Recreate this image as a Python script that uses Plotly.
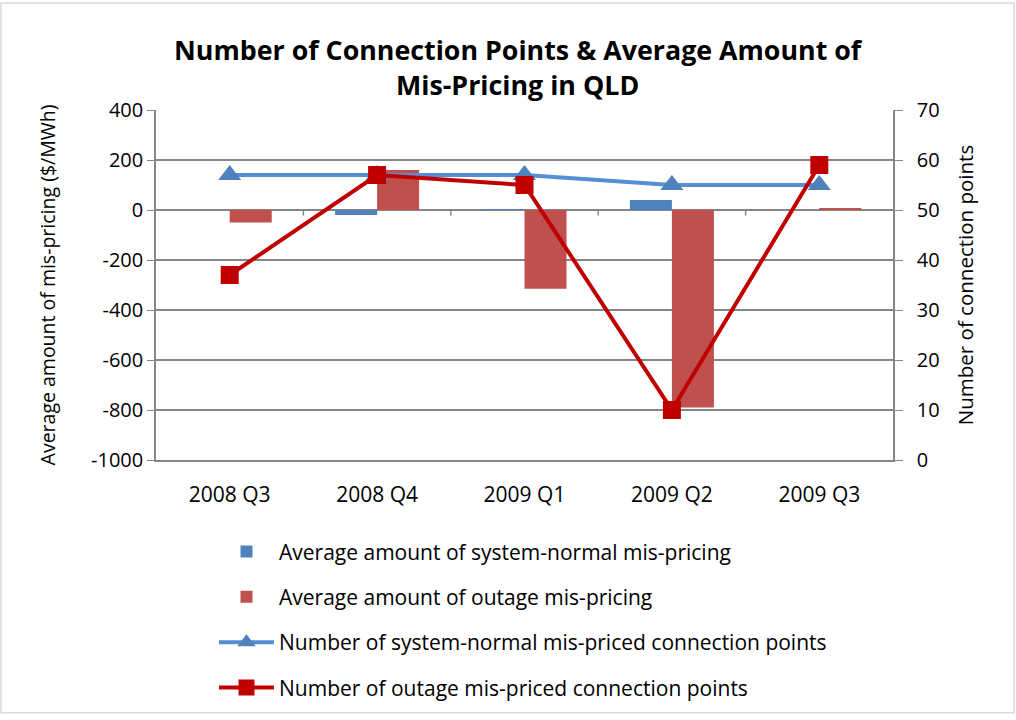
import plotly.graph_objects as go

categories = ["2008 Q3", "2008 Q4", "2009 Q1", "2009 Q2", "2009 Q3"]
avg_normal = [0, -20, 3, 40, 0]
avg_outage = [-50, 160, -315, -790, 8]
num_normal = [57, 57, 57, 55, 55]
num_outage = [37, 57, 55, 10, 59]
left_ticks = [-1000, -800, -600, -400, -200, 0, 200, 400]
left_tick_text = ["-1000", "-800", "-600", "-400", "-200", "0", "200", "400"]

FONT = "Open Sans"
GRID = "#868686"

fig = go.Figure()
fig.add_trace(go.Bar(x=categories, y=avg_normal, name="Average amount of system-normal mis-pricing",
                     marker=dict(color="#4F81BD", line=dict(width=0)), legendgroup="a", offsetgroup="1"))
fig.add_trace(go.Bar(x=categories, y=avg_outage, name="Average amount of outage mis-pricing",
                     marker=dict(color="#C0504D", line=dict(width=0)), legendgroup="b", offsetgroup="2"))
fig.add_trace(go.Scatter(x=categories, y=num_normal, yaxis="y2", mode="lines+markers",
                         name="Number of system-normal mis-priced connection points",
                         line=dict(color="#558ED5", width=4),
                         marker=dict(symbol="triangle-up", size=20, color="#4F81BD"),
                         legendgroup="c"))
fig.add_trace(go.Scatter(x=categories, y=num_outage, yaxis="y2", mode="lines+markers",
                         name="Number of outage mis-priced connection points",
                         line=dict(color="#C00000", width=4),
                         marker=dict(symbol="square", size=18, color="#C00000"),
                         legendgroup="d"))

shapes = []
for b in [0.5, 1.5, 2.5, 3.5]:
    shapes.append(dict(type="line", xref="x", yref="y", x0=b, x1=b, y0=0, y1=-22,
                       line=dict(color=GRID, width=1.5)))
shapes.append(dict(type="rect", xref="paper", yref="paper",
                   x0=-155/737, x1=(1014-156)/737, y0=-(718-463)/353, y1=(463-2)/353,
                   line=dict(color="#D9D9D9", width=1.5)))

fig.update_layout(
    width=1016, height=720,
    margin=dict(l=156, r=123, t=110, b=257),
    paper_bgcolor="white", plot_bgcolor="white",
    font=dict(family=FONT, size=20, color="black"),
    annotations=[dict(text="<b>Number of Connection Points & Average Amount of<br>Mis-Pricing in QLD</b>",
                      xref="paper", yref="paper", x=(518-156)/737, y=(463-67)/353,
                      xanchor="center", yanchor="middle", showarrow=False,
                      font=dict(family=FONT, size=26.8, color="black"))],
    barmode="group", bargap=0.43, bargroupgap=0,
    xaxis=dict(type="category", showgrid=False, showline=True, linecolor=GRID, linewidth=1.5,
               ticks="", tickfont=dict(size=21), range=[-0.5, 4.5], ticklabelstandoff=15),
    yaxis=dict(range=[-1000, 400], tickvals=left_ticks, ticktext=left_tick_text,
               showgrid=True, gridcolor=GRID, gridwidth=1.5,
               zeroline=True, zerolinecolor=GRID, zerolinewidth=1.5,
               showline=True, linecolor=GRID, linewidth=1.5, ticks="outside", ticklen=7,
               tickcolor=GRID, tickfont=dict(size=20),
               title=dict(text="Average amount of mis-pricing ($/MWh)", font=dict(size=19.5), standoff=30)),
    yaxis2=dict(range=[0, 70], dtick=10, overlaying="y", side="right", showgrid=False,
                zeroline=False, showline=True, linecolor=GRID, linewidth=1.5, ticks="outside",
                ticklen=8, tickcolor=GRID, tickfont=dict(size=20), ticklabelstandoff=10,
                title=dict(text="Number of connection points", font=dict(size=20.5), standoff=20)),
    legend=dict(orientation="v", x=(214-156)/737, xanchor="left", y=-(535-463)/353, yanchor="top",
                font=dict(size=21), tracegroupgap=15, itemwidth=55, bgcolor="rgba(0,0,0,0)"),
    shapes=shapes,
)

fig.write_html("out.html", post_script="document.body.style.margin='0px';",
               config={"displayModeBar": False})
